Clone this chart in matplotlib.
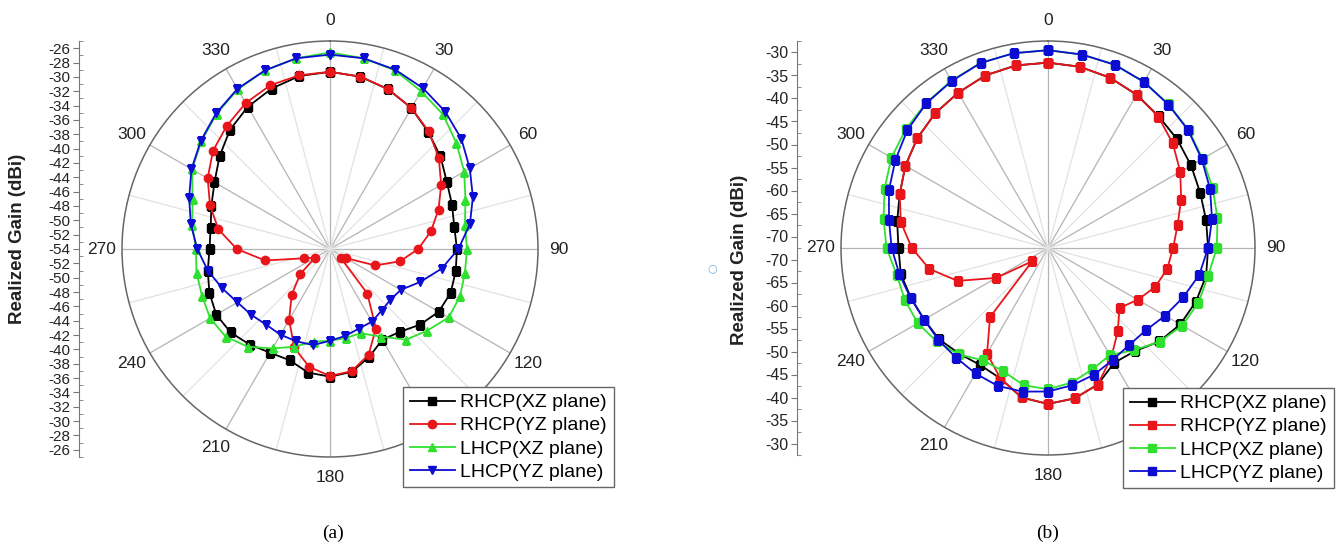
import numpy as np
import matplotlib.pyplot as plt
from matplotlib.ticker import FixedLocator, FuncFormatter

plt.rcParams['font.family'] = ['Liberation Sans', 'DejaVu Sans']

W, H = 1341, 545

angles = np.arange(0, 360, 10)

# ---- panel (a): realized gain, dBi ----
a_rhcp_xz = [-29.3, -29.6, -30.3, -31.3, -32.7, -33.9, -35.2, -35.9, -36.4, -36.3, -36.2, -36.1,
             -36.5, -37.6, -38.9, -39.4, -38.0, -36.6, -36.2, -36.5, -37.5, -37.3, -36.6, -35.9,
             -35.7, -36.1, -36.7, -37.2, -37.1, -36.4, -35.4, -33.9, -32.3, -31.1, -30.2, -29.5]
a_rhcp_yz = [-29.3, -29.6, -30.3, -31.3, -32.6, -34.2, -36.1, -37.9, -39.7, -41.7, -44.1, -47.3,
             -51.5, -52.0, -45.9, -41.2, -38.3, -36.7, -36.3, -37.3, -39.4, -42.6, -45.7, -48.6,
             -51.6, -50.2, -44.8, -41.0, -38.2, -36.2, -34.3, -32.7, -31.6, -30.5, -29.7, -29.4]
a_lhcp_xz = [-26.6, -27.0, -27.5, -28.6, -29.5, -31.0, -32.4, -33.9, -34.9, -34.9, -34.9, -34.7,
             -34.9, -36.3, -37.5, -39.9, -41.5, -41.4, -41.2, -40.9, -39.5, -38.0, -36.2, -35.0,
             -34.7, -35.0, -35.1, -35.3, -34.5, -33.6, -31.8, -30.6, -29.4, -28.3, -27.5, -27.0]
a_lhcp_yz = [-26.9, -27.0, -27.4, -28.1, -29.0, -30.1, -31.5, -32.8, -34.2, -36.1, -38.2, -40.6,
             -42.6, -43.0, -42.8, -42.3, -42.2, -41.7, -41.2, -40.4, -40.3, -40.2, -40.2, -39.7,
             -39.1, -38.0, -36.7, -35.5, -34.3, -33.1, -31.7, -30.5, -29.3, -28.2, -27.5, -27.0]

# ---- panel (b) ----
b_rhcp_xz = [-32.2, -32.5, -33.1, -34.0, -35.1, -35.8, -36.6, -37.3, -37.6, -37.7, -37.6, -38.3,
             -39.3, -40.9, -43.2, -43.7, -40.9, -39.3, -38.6, -39.5, -42.3, -43.1, -42.5, -41.6,
             -41.4, -40.8, -40.0, -40.0, -39.2, -38.2, -36.7, -35.4, -34.3, -33.5, -32.6, -32.2]
b_rhcp_yz = [-32.2, -32.5, -33.1, -34.0, -35.2, -37.1, -39.3, -41.7, -43.9, -45.3, -46.2, -47.7,
             -50.0, -52.2, -48.9, -45.0, -40.9, -39.3, -38.6, -39.5, -42.3, -46.0, -52.9, -68.0,
             -59.5, -51.6, -46.3, -42.9, -40.0, -38.2, -36.7, -35.4, -34.3, -33.5, -32.6, -32.2]
b_lhcp_xz = [-29.5, -29.8, -30.1, -30.8, -31.7, -32.6, -33.7, -34.4, -35.1, -35.8, -37.2, -37.7,
             -38.8, -40.8, -43.5, -45.6, -44.4, -42.8, -41.8, -42.2, -44.0, -44.3, -42.3, -40.9,
             -39.8, -39.4, -39.1, -37.4, -36.2, -34.7, -33.2, -32.2, -31.3, -30.5, -29.7, -29.5]
b_lhcp_yz = [-29.5, -29.8, -30.1, -30.8, -31.8, -32.7, -33.9, -35.0, -36.3, -37.7, -39.1, -41.2,
             -43.1, -44.7, -45.0, -44.4, -43.2, -42.2, -41.3, -40.8, -40.6, -41.0, -41.4, -41.4,
             -41.4, -40.7, -39.7, -38.5, -37.4, -35.7, -34.2, -32.6, -31.4, -30.6, -29.7, -29.5]

labels = ['RHCP(XZ plane)', 'RHCP(YZ plane)', 'LHCP(XZ plane)', 'LHCP(YZ plane)']
colors = ['#000000', '#e8161b', '#2fe02f', '#0c0cd2']


def closed(vals):
    th = np.deg2rad(np.append(angles, angles[0] + 360))
    return th, np.append(vals, vals[0])


def polar_panel(cx, cy, rad, rmin, rmax):
    rect = [(cx - rad) / W, (H - cy - rad) / H, 2 * rad / W, 2 * rad / H]
    ax = fig.add_axes(rect, projection='polar')
    ax.set_theta_zero_location('N')
    ax.set_theta_direction(-1)
    ax.set_rlim(rmin, rmax)
    ax.set_yticks([])
    ax.set_xticks(np.deg2rad(np.arange(0, 360, 30)))
    ax.set_xticklabels([str(v) for v in range(0, 360, 30)])
    ax.xaxis.set_minor_locator(FixedLocator(np.deg2rad(np.arange(15, 360, 30))))
    ax.xaxis.grid(True, which='major', color='#b4b4b4', lw=0.9)
    ax.xaxis.grid(True, which='minor', color='#e2e2e2', lw=0.9)
    ax.spines['polar'].set_color('#666666')
    ax.spines['polar'].set_linewidth(1.1)
    ax.tick_params(axis='x', which='both', direction='in', length=5, color='#666666',
                   pad=8, labelsize=12.5, labelcolor='#222222')
    return ax, rect


def gain_scale(x_px, rect, rmin, rmax, major_vals, minor_vals, fs):
    span = rmax - rmin
    sax = fig.add_axes([x_px / W, rect[1], 0.0005, rect[3]])
    sax.set_ylim(-span, span)
    sax.set_xticks([])
    for s in ['top', 'right', 'bottom']:
        sax.spines[s].set_visible(False)
    sax.spines['left'].set_color('#777777')
    pos = sorted(set([v - rmin for v in major_vals] + [rmin - v for v in major_vals]))
    mpos = sorted(set([v - rmin for v in minor_vals] + [rmin - v for v in minor_vals]))
    sax.yaxis.set_major_locator(FixedLocator(pos))
    sax.yaxis.set_minor_locator(FixedLocator(mpos))
    sax.yaxis.set_major_formatter(FuncFormatter(lambda p, i: '%d' % round(rmin + abs(p))))
    sax.tick_params(axis='y', which='major', direction='out', length=4, color='#777777',
                    labelsize=fs, labelcolor='#222222', pad=2)
    sax.tick_params(axis='y', which='minor', direction='in', length=3, color='#777777')
    return sax


fig = plt.figure(figsize=(W / 100, H / 100), dpi=100)

leg_kw = dict(loc='upper left', bbox_transform=fig.transFigure, borderaxespad=0, fontsize=14,
              fancybox=False, edgecolor='#666666', framealpha=1, handlelength=2.3,
              handletextpad=0.3, labelspacing=0.28, borderpad=0.35)

# panel (a)
ax_a, rect_a = polar_panel(330, 249, 208, -54, -25)
for vals, lab, c, m in zip([a_rhcp_xz, a_rhcp_yz, a_lhcp_xz, a_lhcp_yz], labels, colors,
                           ['s', 'o', '^', 'v']):
    th, r = closed(vals)
    ax_a.plot(th, r, color=c, lw=1.3, marker=m, ms=6, label=lab)
gain_scale(79, rect_a, -54, -25, list(range(-54, -25, 2)), list(range(-53, -24, 2)), 11)
fig.text(18 / W, 1 - 239 / H, 'Realized Gain (dBi)', rotation=90, ha='center', va='center',
         fontsize=13.5, fontweight='bold', color='#222222')
leg_a = ax_a.legend(bbox_to_anchor=(403 / W, 1 - 387 / H), **leg_kw)
leg_a.get_frame().set_linewidth(1.0)
fig.text(333 / W, 1 - 533 / H, '(a)', ha='center', va='center', fontsize=14,
         family=['Liberation Serif', 'DejaVu Serif'])

# panel (b)
ax_b, rect_b = polar_panel(1048, 248, 207, -72.5, -27.5)
for vals, lab, c in zip([b_rhcp_xz, b_rhcp_yz, b_lhcp_xz, b_lhcp_yz], labels, colors):
    th, r = closed(vals)
    ax_b.plot(th, r, color=c, lw=1.3, marker='s', ms=6, label=lab)
gain_scale(797, rect_b, -72.5, -27.5, list(range(-70, -29, 5)),
           list(np.arange(-72.5, -27, 5)), 11.5)
fig.text(740 / W, 1 - 260 / H, 'Realized Gain (dBi)', rotation=90, ha='center', va='center',
         fontsize=13.5, fontweight='bold', color='#222222')
leg_b = ax_b.legend(bbox_to_anchor=(1123 / W, 1 - 388 / H), **leg_kw)
leg_b.get_frame().set_linewidth(1.0)
fig.text(1048 / W, 1 - 533 / H, '(b)', ha='center', va='center', fontsize=14,
         family=['Liberation Serif', 'DejaVu Serif'])
fig.text(712 / W, 1 - 268 / H, '\u25cb', ha='center', va='center', fontsize=8,
         color='#6fa8dc', family='DejaVu Sans')

fig.savefig('out.png', dpi=100)
